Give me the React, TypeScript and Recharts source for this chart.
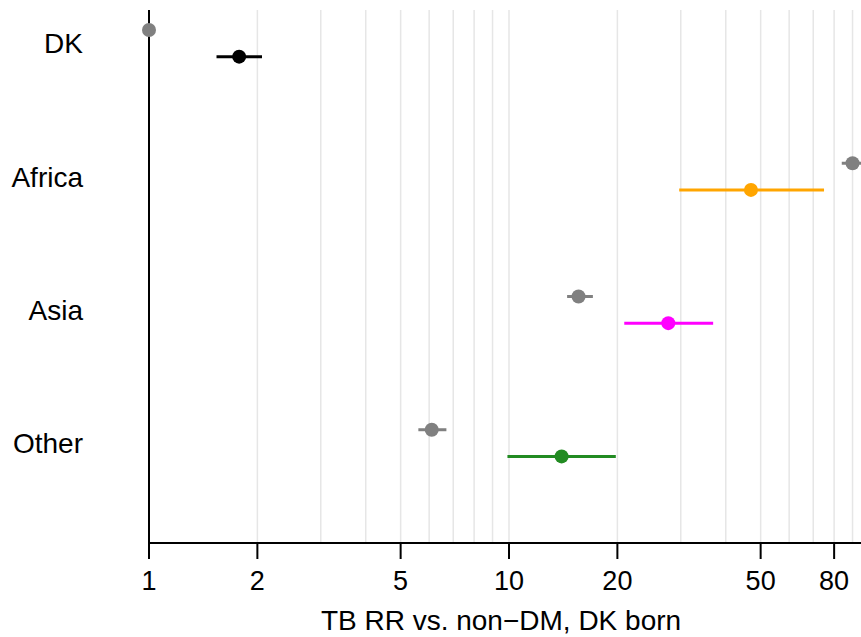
import React from 'react';
import {
  ScatterChart,
  Scatter,
  XAxis,
  YAxis,
  ErrorBar,
  ReferenceLine,
} from 'recharts';

// rows, top to bottom
const regions = ['DK', 'Africa', 'Asia', 'Other'];
const rowPos = [4, 3, 2, 1];

// grey: reference estimates
const refRR = [1, 90, 15.6, 6.1];
const refLo = [1, 84, 14.5, 5.6];
const refHi = [1, 95, 17.1, 6.7];

// coloured: DM estimates
const dmRR = [1.78, 47, 27.7, 14];
const dmLo = [1.54, 29.7, 20.9, 9.9];
const dmHi = [2.06, 75, 36.9, 19.8];
const dmColors = ['#000000', '#FFA500', '#FF00FF', '#228B22'];

const xTicks = [1, 2, 5, 10, 20, 50, 80];
const gridValues = [2, 3, 4, 5, 6, 7, 8, 9, 10, 20, 30, 40, 50, 60, 70, 80, 90];

const greyData = regions.map((r, i) => ({
  name: r,
  x: refRR[i],
  y: rowPos[i] + 0.1,
  err: [refRR[i] - refLo[i], refHi[i] - refRR[i]],
}));

const dmData = regions.map((r, i) => ({
  name: r,
  x: dmRR[i],
  y: rowPos[i] - 0.1,
  err: [dmRR[i] - dmLo[i], dmHi[i] - dmRR[i]],
}));

const font = 'Liberation Sans, Arial, sans-serif';

export default function App() {
  return (
    <div style={{ position: 'absolute', left: 0, top: 0, width: 861, height: 637, background: '#fff' }}>
      <ScatterChart
        width={861}
        height={637}
        margin={{ top: 10, right: 0, bottom: 0, left: 0 }}
      >
        <XAxis
          type="number"
          dataKey="x"
          scale="log"
          domain={[1, 95]}
          ticks={xTicks}
          interval={0}
          height={94}
          axisLine={{ stroke: '#000', strokeWidth: 2 }}
          tickLine={{ stroke: '#000', strokeWidth: 2 }}
          tickSize={16}
          tickMargin={12}
          tick={{ fill: '#000', fontSize: 27, fontFamily: font }}
          label={{
            value: 'TB RR vs. non\u2212DM, DK born',
            position: 'insideBottom',
            offset: 7,
            dx: -4,
            fill: '#000',
            fontSize: 28,
            fontFamily: font,
          }}
        />
        <YAxis
          type="number"
          dataKey="y"
          domain={[0.25, 4.25]}
          ticks={rowPos}
          interval={0}
          width={149}
          tickFormatter={(v: number) => regions[rowPos.indexOf(v)] ?? ''}
          axisLine={{ stroke: '#000', strokeWidth: 2 }}
          tickLine={false}
          tickSize={0}
          tickMargin={66}
          tick={{ fill: '#000', fontSize: 28, fontFamily: font }}
        />
        {gridValues.map((v) => (
          <ReferenceLine key={v} x={v} stroke="#e6e6e6" strokeWidth={1.5} />
        ))}
        <Scatter data={greyData} fill="#808080" isAnimationActive={false} shape={(p: any) => (
          <circle cx={p.cx} cy={p.cy} r={7} fill="#808080" />
        )}>
          <ErrorBar dataKey="err" direction="x" width={0} stroke="#808080" strokeWidth={3} />
        </Scatter>
        {dmData.map((d, i) => (
          <Scatter
            key={d.name}
            data={[d]}
            fill={dmColors[i]}
            isAnimationActive={false}
            shape={(p: any) => <circle cx={p.cx} cy={p.cy} r={7} fill={dmColors[i]} />}
          >
            <ErrorBar dataKey="err" direction="x" width={0} stroke={dmColors[i]} strokeWidth={3} />
          </Scatter>
        ))}
      </ScatterChart>
    </div>
  );
}
